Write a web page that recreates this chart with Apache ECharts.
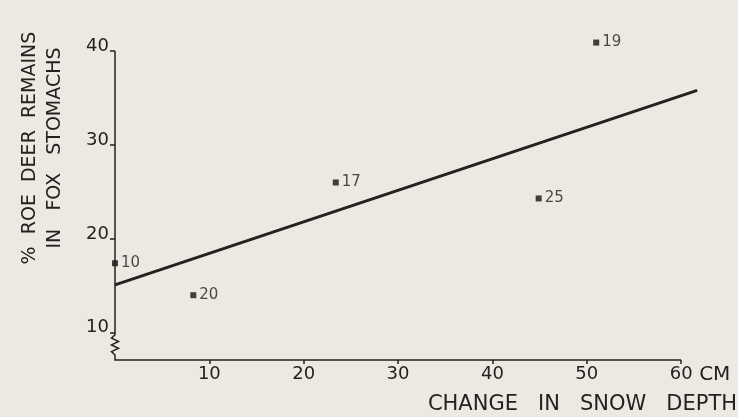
<!DOCTYPE html>
<html>
<head>
<meta charset="utf-8">
<script src="https://cdn.jsdelivr.net/npm/echarts@6/dist/echarts.min.js"></script>
<style>
html,body{margin:0;padding:0;background:#eee8e2}
#main{width:738px;height:417px}
</style>
</head>
<body>
<div id="main"></div>
<script>
// data
var snowDepth = [0, 8.3, 23.4, 44.9, 51.0];
var roeDeer = [17.4, 14.0, 26.0, 24.3, 40.9];
var sampleSize = ['10', '20', '17', '25', '19'];
var fitX = [0, 61.7];
var fitY = [15.1, 35.8];
var xTicks = [10, 20, 30, 40, 50, 60];
var yTicks = [10, 20, 30, 40];
var yMin = 7.1;

var ink = '#242120';
var font = 'DejaVu Sans';

var points = [];
for (var i = 0; i < snowDepth.length; i++) {
    points.push([snowDepth[i], roeDeer[i], sampleSize[i]]);
}
var fitLine = [];
for (var j = 0; j < fitX.length; j++) {
    fitLine.push([fitX[j], fitY[j]]);
}

var chart = echarts.init(document.getElementById('main'));
var option = {
    backgroundColor: '#eee8e2',
    animation: false,
    // x axis runs a bit past 60 so the fitted line can overshoot the last tick
    grid: { left: 115, right: 38, top: 51, bottom: 57 },
    xAxis: {
        type: 'value',
        min: 0,
        max: 62,
        splitLine: { show: false },
        axisLine: { show: false },
        axisTick: { customValues: xTicks, length: 4, lineStyle: { color: ink, width: 1.5 } },
        axisLabel: { customValues: xTicks, color: ink, fontFamily: font, fontSize: 18, margin: 5 }
    },
    yAxis: {
        type: 'value',
        min: yMin,
        max: 40,
        splitLine: { show: false },
        axisLine: { show: false },
        axisTick: { customValues: yTicks, length: 5, lineStyle: { color: ink, width: 1.5 } },
        axisLabel: {
            customValues: yTicks, color: ink, fontFamily: font, fontSize: 18, margin: 6,
            verticalAlign: 'bottom', padding: [0, 0, -4, 0]
        }
    },
    series: [
        {
            type: 'line',
            data: fitLine,
            symbol: 'none',
            clip: false,
            lineStyle: { color: ink, width: 3 }
        },
        {
            type: 'scatter',
            data: points,
            symbol: 'rect',
            symbolSize: 6,
            clip: false,
            itemStyle: { color: '#141211' },
            label: {
                show: true,
                position: 'right',
                distance: 3,
                color: '#1e1b1a',
                fontFamily: font,
                fontSize: 15,
                formatter: function (p) { return p.value[2]; }
            }
        }
    ]
};
chart.setOption(option);

// broken y axis with a zigzag below 10, then the x axis out to 60
var pTop = chart.convertToPixel({ gridIndex: 0 }, [0, 40]);
var p10 = chart.convertToPixel({ gridIndex: 0 }, [0, 10]);
var pBot = chart.convertToPixel({ gridIndex: 0 }, [0, yMin]);
var pEnd = chart.convertToPixel({ gridIndex: 0 }, [60, yMin]);
var axisPts = [[pTop[0], pTop[1]], [p10[0], p10[1] + 2]];
var zz0 = p10[1] + 2, zz1 = pBot[1] - 5, steps = 6;
for (var k = 1; k < steps; k++) {
    axisPts.push([pTop[0] + (k % 2 ? -3.5 : 3.5), zz0 + (zz1 - zz0) * k / steps]);
}
axisPts.push([pTop[0], zz1]);
axisPts.push([pBot[0], pBot[1]]);
axisPts.push([pEnd[0], pEnd[1]]);

chart.setOption({
    graphic: [
        {
            type: 'polyline',
            shape: { points: axisPts },
            style: { stroke: ink, lineWidth: 1.5, fill: 'none' }
        },
        {
            type: 'text',
            x: pEnd[0] + 18,
            y: pEnd[1] + 5,
            style: { text: 'CM', fill: ink, font: '20px "' + font + '"', textAlign: 'left', textVerticalAlign: 'top' }
        },
        {
            type: 'text',
            x: 737,
            y: 405,
            style: { text: 'CHANGE   IN   SNOW   DEPTH', fill: ink, font: '21px "' + font + '"', textAlign: 'right', textVerticalAlign: 'middle' }
        },
        {
            type: 'text',
            x: 30,
            y: 148,
            rotation: Math.PI / 2,
            style: { text: '%  ROE  DEER  REMAINS', fill: ink, font: '19px "' + font + '"', textAlign: 'center', textVerticalAlign: 'middle' }
        },
        {
            type: 'text',
            x: 55,
            y: 148,
            rotation: Math.PI / 2,
            style: { text: 'IN   FOX   STOMACHS', fill: ink, font: '19px "' + font + '"', textAlign: 'center', textVerticalAlign: 'middle' }
        }
    ]
});
</script>
</body>
</html>
